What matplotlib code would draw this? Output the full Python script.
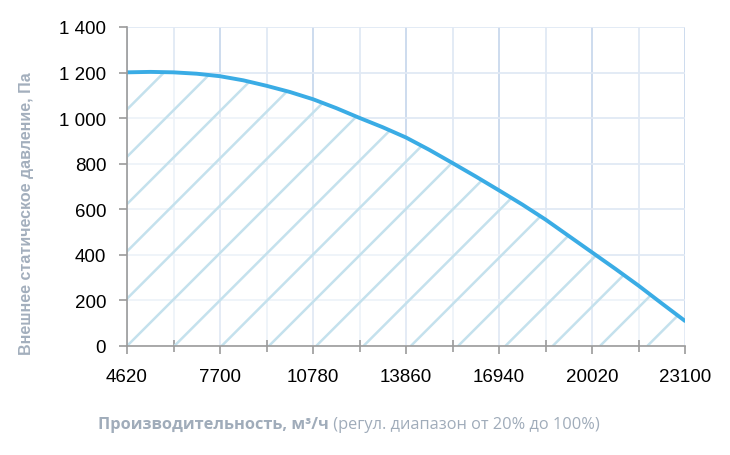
import numpy as np
import matplotlib
matplotlib.use("Agg")
import matplotlib.pyplot as plt
from matplotlib.ticker import FixedLocator, FuncFormatter

# Data
flow = [4620, 5390, 6160, 6930, 7700, 8470, 9240, 10010, 10780, 11550, 12320, 13090,
        13860, 14630, 15400, 16170, 16940, 17710, 18480, 19250, 20020, 20790, 21560,
        22330, 23100]
pressure = [1201, 1203, 1201, 1195, 1184, 1166, 1142, 1115, 1083, 1044, 1001, 960,
            915, 861, 803, 744, 683, 621, 555, 483, 411, 339, 265, 187, 110]
x_ticks_major = [4620, 7700, 10780, 13860, 16940, 20020, 23100]
x_ticks_all = [4620, 6160, 7700, 9240, 10780, 12320, 13860, 15400, 16940, 18480, 20020, 21560, 23100]
y_ticks = [0, 200, 400, 600, 800, 1000, 1200, 1400]

W, H, DPI = 730, 456, 100
fig = plt.figure(figsize=(W / DPI, H / DPI), dpi=DPI)
L, R, T, B = 127, 685, 28, 347
ax = fig.add_axes([L / W, 1 - B / H, (R - L) / W, (B - T) / H])

xmin, xmax, ymin, ymax = 4620, 23100, 0, 1400
ax.set_xlim(xmin, xmax)
ax.set_ylim(ymin, ymax)

grid_minor = "#e1e9f4"
grid_major = "#c9d9ed"
for xv in x_ticks_all:
    c = grid_major if xv in x_ticks_major else grid_minor
    ax.axvline(xv, color=c, lw=1.3, zorder=0)
for yv in y_ticks:
    ax.axhline(yv, color=grid_minor, lw=1.3, zorder=0)

# Fill under curve (faded) and hatch
poly = ax.fill_between(flow, pressure, 0, color="white", alpha=0.45, lw=0, zorder=1)
ux = (xmax - xmin) / (R - L)   # data per px in x
uy = (ymax - ymin) / (B - T)   # data per px in y
slope = uy / ux
step_px = 47.3
step = step_px * ux
clip_path = poly.get_paths()[0]
x0 = xmin - np.ceil((ymax / slope) / step) * step
while x0 < xmax:
    xs = np.array([x0, x0 + ymax / slope])
    ys = slope * (xs - x0)
    ln, = ax.plot(xs, ys, color="#c4e1ed", lw=1.8, zorder=2, solid_capstyle="butt")
    ln.set_clip_path(clip_path, ax.transData)
    x0 += step

ax.plot(flow, pressure, color="#3aace5", lw=2.8, zorder=4, solid_capstyle="round",
        solid_joinstyle="round")

# Axes styling
for s in ["top", "right"]:
    ax.spines[s].set_visible(False)
for s in ["left", "bottom"]:
    ax.spines[s].set_color("#9b9b9b")
    ax.spines[s].set_linewidth(1.2)
    ax.spines[s].set_zorder(5)

ax.xaxis.set_major_locator(FixedLocator(x_ticks_major))
ax.xaxis.set_minor_locator(FixedLocator([v for v in x_ticks_all if v not in x_ticks_major]))
ax.yaxis.set_major_locator(FixedLocator(y_ticks))
ax.tick_params(axis="x", which="major", direction="out", length=6, width=1.2, color="#9b9b9b")
ax.tick_params(axis="x", which="minor", direction="inout", length=8, width=1.2, color="#9b9b9b")
ax.tick_params(axis="y", which="major", direction="out", length=6, width=1.2, color="#9b9b9b")
ax.tick_params(axis="x", which="major", pad=10, labelsize=13.5)
ax.tick_params(axis="y", which="major", pad=9, labelsize=13.5)

def yfmt(v, pos):
    v = int(v)
    if v >= 1000:
        return f"{v // 1000} {v % 1000:03d}"
    return str(v)
ax.yaxis.set_major_formatter(FuncFormatter(yfmt))
ax.xaxis.set_major_formatter(FuncFormatter(lambda v, p: str(int(v))))
for lab in ax.get_xticklabels() + ax.get_yticklabels():
    lab.set_fontfamily("Liberation Sans")
    lab.set_color("black")

fig.text(27 / W, 1 - 214 / H, "Внешнее статическое давление, Па", rotation=90,
         ha="center", va="center", fontsize=11.5, fontweight="bold",
         family="Liberation Sans", color="#a3afbd")

# x label in two parts
fig.canvas.draw()
renderer = fig.canvas.get_renderer()
lbl_color = "#a0acba"
t1 = fig.text(0, 1 - 425 / H, "Производительность, м³/ч", ha="left", va="center",
              fontsize=11.8, fontweight="bold", family="Open Sans", color=lbl_color)
t2 = fig.text(0, 1 - 425 / H, " (регул. диапазон от 20% до 100%)", ha="left", va="center",
              fontsize=11.8, family="Open Sans", color=lbl_color)
w1 = t1.get_window_extent(renderer).width
w2 = t2.get_window_extent(renderer).width
left = 98
t1.set_x(left / W)
t2.set_x((left + w1) / W)

fig.savefig("out.png", dpi=DPI)
